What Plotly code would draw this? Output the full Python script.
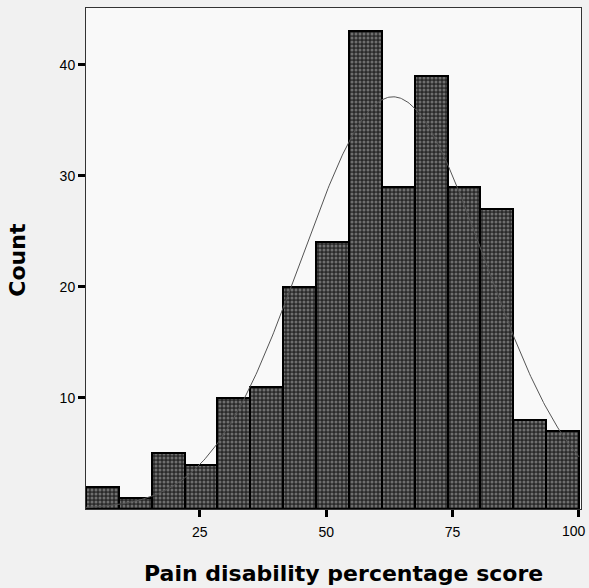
import numpy as np
import plotly.graph_objects as go

# Histogram of pain disability percentage scores (SPSS-style, 15 bins)
bin_start = 2.5
bin_width = 6.5
counts = [2, 1, 5, 4, 10, 11, 20, 24, 43, 29, 39, 29, 27, 8, 7]

# Fitted normal curve parameters
curve_mean = 63.2
curve_sd = 18.1

x_ticks = [25, 50, 75, 100]
y_ticks = [10, 20, 30, 40]

n_total = sum(counts)
centers = [bin_start + bin_width * (i + 0.5) for i in range(len(counts))]

xs = np.linspace(0, 100, 400)
ys = n_total * bin_width / (curve_sd * np.sqrt(2 * np.pi)) * np.exp(-0.5 * ((xs - curve_mean) / curve_sd) ** 2)

fig = go.Figure()
fig.add_trace(go.Bar(
    x=centers, y=counts, width=bin_width,
    marker=dict(
        color="#2a2a2a",
        line=dict(color="#000000", width=2),
        pattern=dict(shape=".", fgcolor="#b4b4b4", size=4, solidity=0.45),
    ),
    showlegend=False, hoverinfo="skip",
))
fig.add_trace(go.Scatter(
    x=xs, y=ys, mode="lines",
    line=dict(color="#555555", width=1),
    showlegend=False, hoverinfo="skip",
))

axis_font = dict(family="Liberation Sans, Arial, sans-serif", size=14, color="#000000")
title_font = dict(family="DejaVu Sans, sans-serif", size=22, color="#000000")

# The last x tick label sits at the right edge, so it is drawn right-aligned
x_labels = [str(v) for v in x_ticks[:-1]] + [""]

fig.update_layout(
    width=589, height=588,
    margin=dict(l=86, r=8, t=8, b=79),
    paper_bgcolor="#f1f1f1",
    plot_bgcolor="#f9f9f9",
    bargap=0,
    xaxis=dict(
        range=[bin_start, 100.4], tickvals=x_ticks, ticktext=x_labels,
        ticks="outside", ticklen=7, tickwidth=3, tickcolor="#000000",
        ticklabelstandoff=3, automargin=False,
        showgrid=False, zeroline=False,
        showline=True, linecolor="#333333", linewidth=1, mirror=True,
        tickfont=axis_font,
    ),
    yaxis=dict(
        range=[0, 45.1], tickvals=y_ticks, ticktext=[str(v) for v in y_ticks],
        ticks="outside", ticklen=7, tickwidth=3, tickcolor="#000000",
        automargin=False,
        showgrid=False, zeroline=False,
        showline=True, linecolor="#333333", linewidth=1, mirror=True,
        tickfont=axis_font,
    ),
    annotations=[
        dict(text=str(x_ticks[-1]), xref="paper", yref="paper",
             x=1.0141, y=-0.044, xanchor="right", yanchor="middle", showarrow=False,
             font=axis_font),
        dict(text="<b>Pain disability percentage score</b>", xref="paper", yref="paper",
             x=0.521, y=-0.128, xanchor="center", yanchor="middle", showarrow=False,
             font=title_font),
        dict(text="<b>Count</b>", xref="paper", yref="paper", textangle=-90,
             x=-0.14, y=0.497, xanchor="center", yanchor="middle", showarrow=False,
             font=title_font),
    ],
)

fig.write_html("out.html")
